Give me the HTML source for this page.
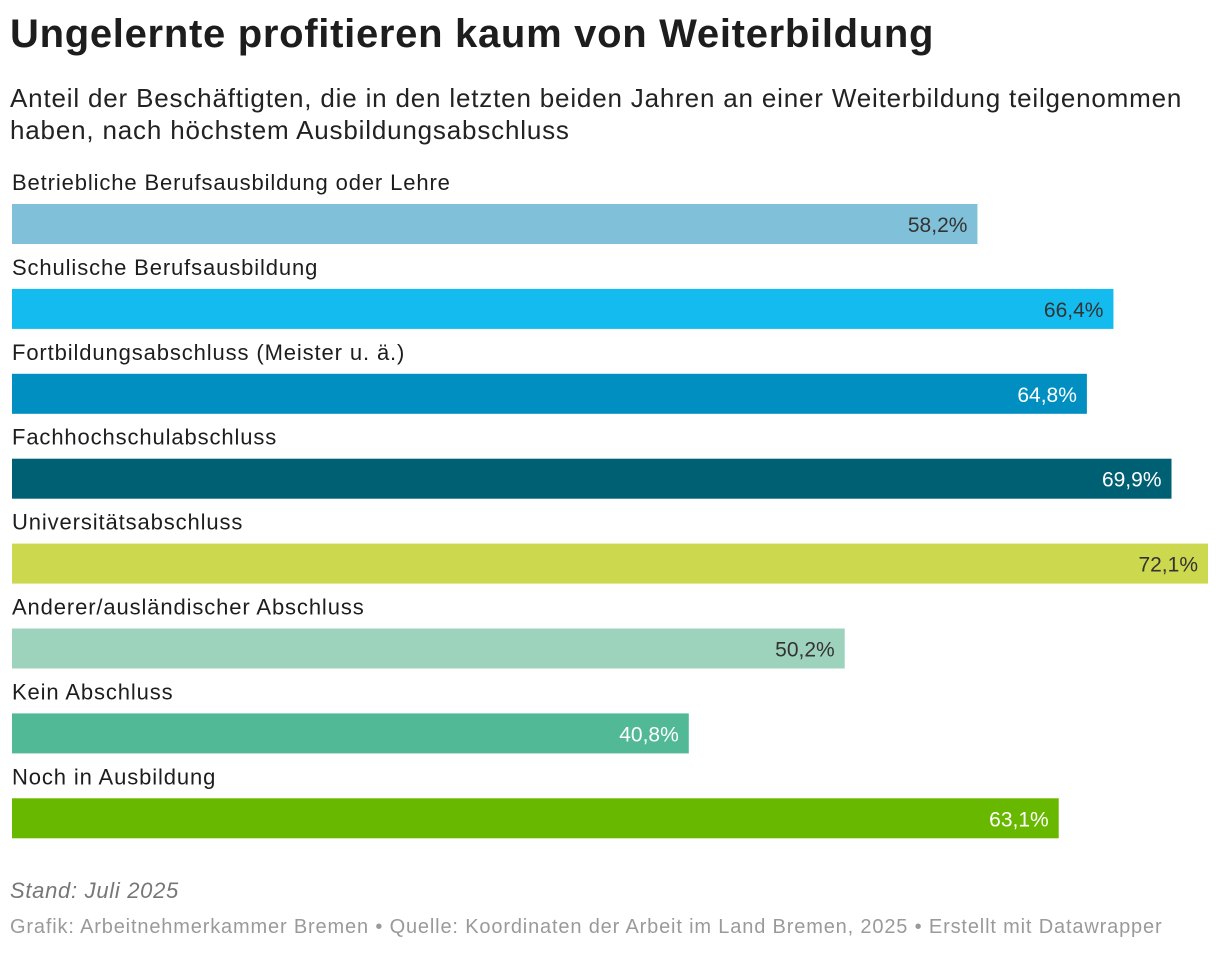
<!DOCTYPE html>
<html><head><meta charset="utf-8">
<style>
body{margin:0;background:#fff;width:1220px;height:954px;overflow:hidden;font-family:"Liberation Sans",sans-serif;color:#1d1d1d;}
#title{position:absolute;left:10px;top:12px;font-size:40px;font-weight:bold;letter-spacing:0.7px;margin:0;white-space:nowrap;}
#sub{position:absolute;left:10px;top:82px;font-size:26px;line-height:32px;width:1200px;color:#222;letter-spacing:0.82px;}
#chart{position:absolute;left:0;top:0;}
#stand{position:absolute;left:10px;top:878px;font-size:22px;font-style:italic;color:#777;letter-spacing:0.7px;}
#foot{position:absolute;left:10px;top:916px;font-size:20px;color:#9a9a9a;letter-spacing:0.84px;white-space:nowrap;}
</style></head><body>
<h1 id="title">Ungelernte profitieren kaum von Weiterbildung</h1>
<div id="sub">Anteil der Beschäftigten, die in den letzten beiden Jahren an einer Weiterbildung teilgenommen haben, nach höchstem Ausbildungsabschluss</div>
<svg id="chart" width="1220" height="954"></svg>
<div id="stand">Stand: Juli 2025</div>
<div id="foot">Grafik: Arbeitnehmerkammer Bremen • Quelle: Koordinaten der Arbeit im Land Bremen, 2025 • Erstellt mit Datawrapper</div>
<script>
const categories=["Betriebliche Berufsausbildung oder Lehre","Schulische Berufsausbildung","Fortbildungsabschluss (Meister u. ä.)","Fachhochschulabschluss","Universitätsabschluss","Anderer/ausländischer Abschluss","Kein Abschluss","Noch in Ausbildung"];
const values=[58.2,66.4,64.8,69.9,72.1,50.2,40.8,63.1];
const colors=["#80c0d9","#14bbee","#008fc0","#006073","#ccd94f","#9dd3bd","#52b996","#69b800"];
const labelColors=["#333","#333","#fff","#fff","#333","#333","#fff","#fff"];
const svg=document.getElementById('chart');
const NS="http://www.w3.org/2000/svg";
const x0=12, x1=1208, maxV=Math.max(...values);
const xs=v=>x0+(x1-x0)*v/maxV;
const ys=i=>204+i*84.9;
categories.forEach((c,i)=>{
  const t=document.createElementNS(NS,'text');
  
  
  t.setAttribute('x',12);t.setAttribute('y',ys(i)-14);
  t.setAttribute('font-size','22');t.setAttribute('fill','#1d1d1d');
  t.setAttribute('letter-spacing','0.88');
  t.setAttribute('font-family','Liberation Sans, sans-serif');
  t.textContent=c;svg.appendChild(t);
  const r=document.createElementNS(NS,'rect');
  
  
  r.setAttribute('x',x0);r.setAttribute('y',ys(i));
  r.setAttribute('width',xs(values[i])-x0);r.setAttribute('height',40);
  r.setAttribute('fill',colors[i]);svg.appendChild(r);
  const v=document.createElementNS(NS,'text');
  
  
  v.setAttribute('x',xs(values[i])-10);v.setAttribute('y',ys(i)+28);
  v.setAttribute('text-anchor','end');v.setAttribute('font-size','21');
  v.setAttribute('font-family','Liberation Sans, sans-serif');
  v.setAttribute('fill',labelColors[i]);
  v.textContent=values[i].toFixed(1).replace('.',',')+'%';svg.appendChild(v);
});
</script>
</body></html>
